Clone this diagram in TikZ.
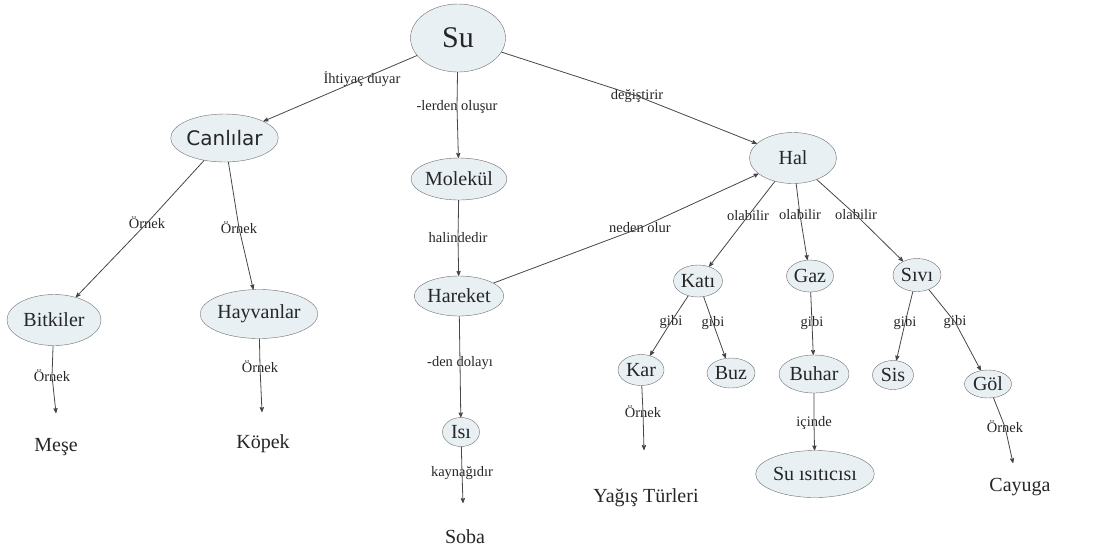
\documentclass[tikz,border=0pt]{standalone}
\usepackage{fontspec}
\setmainfont{Liberation Serif}
\newfontfamily\canfont{DejaVu Sans}
\usetikzlibrary{arrows, shapes.geometric, positioning}
\definecolor{conceptfill}{RGB}{232,240,244}
\definecolor{conceptline}{RGB}{110,110,110}
\definecolor{linkline}{RGB}{70,70,70}
\tikzset{
	>=stealth',
	concept/.style={
		ellipse,
		draw=conceptline,
		fill=conceptfill,
		inner sep=0pt,
		text=black!85,
		font=\fontsize{20}{22}\selectfont},
	linkword/.style={
		inner sep=0pt,
		text=black!85,
		font=\fontsize{14.5}{16}\selectfont},
	leafword/.style={
		inner sep=0pt,
		text=black!85,
		font=\fontsize{20}{22}\selectfont},
	link/.style={draw=linkline, line width=0.8pt, ->},
}

\begin{document}
\begin{tikzpicture}[x=1pt, y=-1pt]
	\useasboundingbox (0,0) rectangle (1097,550);

	% concepts
	\node [concept, minimum width=95pt, minimum height=68pt,
		font=\fontsize{30}{32}\selectfont] (su) at (458,38) {Su};
	\node [concept, minimum width=101pt, minimum height=48pt,
		font=\canfont\fontsize{20}{22}\selectfont] (canlilar) at (224.5,138) {Canlılar};
	\node [concept, minimum width=85pt, minimum height=42pt] (molekul) at (459,179) {Molekül};
	\node [concept, minimum width=87pt, minimum height=51pt] (hal) at (793,158) {Hal};
	\node [concept, minimum width=82pt, minimum height=40pt] (hareket) at (459,296) {Hareket};
	\node [concept, minimum width=94pt, minimum height=51pt] (bitkiler) at (54,320) {Bitkiler};
	\node [concept, minimum width=103pt, minimum height=49pt] (hayvanlar) at (259,314) {Hayvanlar};
	\node [concept, minimum width=37pt, minimum height=29pt] (isi) at (461,432) {Isı};
	\node [concept, minimum width=49pt, minimum height=32pt] (kati) at (698,281) {Katı};
	\node [concept, minimum width=47pt, minimum height=32pt] (gaz) at (810,276) {Gaz};
	\node [concept, minimum width=48pt, minimum height=33pt] (sivi) at (917,275) {Sıvı};
	\node [concept, minimum width=46pt, minimum height=31pt] (kar) at (641,370) {Kar};
	\node [concept, minimum width=48pt, minimum height=30pt] (buz) at (731,373) {Buz};
	\node [concept, minimum width=70pt, minimum height=38pt] (buhar) at (814,374) {Buhar};
	\node [concept, minimum width=41pt, minimum height=29pt] (sis) at (893,375) {Sis};
	\node [concept, minimum width=47pt, minimum height=28pt] (gol) at (988,384) {Göl};
	\node [concept, minimum width=100pt, minimum height=47pt] (isitici) at (815,474) {Su ısıtıcısı};

	% examples at the ends
	\node [leafword] (mese) at (56,447) {Meşe};
	\node [leafword] (kopek) at (263,444) {Köpek};
	\node [leafword] (soba) at (465,537) {Soba};
	\node [leafword] (yagis) at (646,498) {Yağış Türleri};
	\node [leafword] (cayuga) at (1020,487) {Cayuga};
	\coordinate (meseTip) at (56,413);
	\coordinate (kopekTip) at (262,412);
	\coordinate (sobaTip) at (463,503);
	\coordinate (yagisTip) at (644,450);
	\coordinate (cayugaTip) at (1013,463);

	% linking words
	\node [linkword] (ihtiyac) at (362,79) {İhtiyaç duyar};
	\node [linkword] (olusur) at (457,107) {-lerden oluşur};
	\node [linkword] (degistirir) at (637,96) {değiştirir};
	\node [linkword] (ornekBit) at (147,223) {Örnek};
	\node [linkword] (ornekHay) at (239,228) {Örnek};
	\node [linkword] (halinde) at (458,238) {halindedir};
	\node [linkword] (nedenOlur) at (640,228) {neden olur};
	\node [linkword] (olabKati) at (748,216) {olabilir};
	\node [linkword] (olabGaz) at (800,215) {olabilir};
	\node [linkword] (olabSivi) at (856,215) {olabilir};
	\node [linkword] (ornekMese) at (52,376) {Örnek};
	\node [linkword] (ornekKopek) at (260,367) {Örnek};
	\node [linkword] (dolayi) at (460,363) {-den dolayı};
	\node [linkword] (kaynak) at (462,473) {kaynağıdır};
	\node [linkword] (gibiKar) at (671,322) {gibi};
	\node [linkword] (gibiBuz) at (713,323) {gibi};
	\node [linkword] (gibiBuhar) at (812,323) {gibi};
	\node [linkword] (gibiSis) at (905,323) {gibi};
	\node [linkword] (gibiGol) at (955,322) {gibi};
	\node [linkword] (ornekYagis) at (643,412) {Örnek};
	\node [linkword] (icinde) at (814,423) {içinde};
	\node [linkword] (ornekCay) at (1005,427) {Örnek};

	% connectors
	\draw [link] (su) -- (ihtiyac.center) -- (canlilar);
	\draw [link] (su) -- (olusur.center) -- (molekul);
	\draw [link] (su) -- (degistirir.center) -- (hal);
	\draw [link] (canlilar) -- (ornekBit.center) -- (bitkiler);
	\draw [link] (canlilar) -- (ornekHay.center) -- (hayvanlar);
	\draw [link] (molekul) -- (halinde.center) -- (hareket);
	\draw [link] (hareket) -- (nedenOlur.center) -- (hal);
	\draw [link] (hal) -- (olabKati.center) -- (kati);
	\draw [link] (hal) -- (olabGaz.center) -- (gaz);
	\draw [link] (hal) -- (olabSivi.center) -- (sivi);
	\draw [link] (bitkiler) -- (ornekMese.center) -- (meseTip);
	\draw [link] (hayvanlar) -- (ornekKopek.center) -- (kopekTip);
	\draw [link] (hareket) -- (dolayi.center) -- (isi);
	\draw [link] (isi) -- (kaynak.center) -- (sobaTip);
	\draw [link] (kati) -- (gibiKar.center) -- (kar);
	\draw [link] (kati) -- (gibiBuz.center) -- (buz);
	\draw [link] (gaz) -- (gibiBuhar.center) -- (buhar);
	\draw [link] (sivi) -- (gibiSis.center) -- (sis);
	\draw [link] (sivi) -- (gibiGol.center) -- (gol);
	\draw [link] (kar) -- (ornekYagis.center) -- (yagisTip);
	\draw [link] (buhar) -- (icinde.center) -- (isitici);
	\draw [link] (gol) -- (ornekCay.center) -- (cayugaTip);
\end{tikzpicture}
\end{document}
